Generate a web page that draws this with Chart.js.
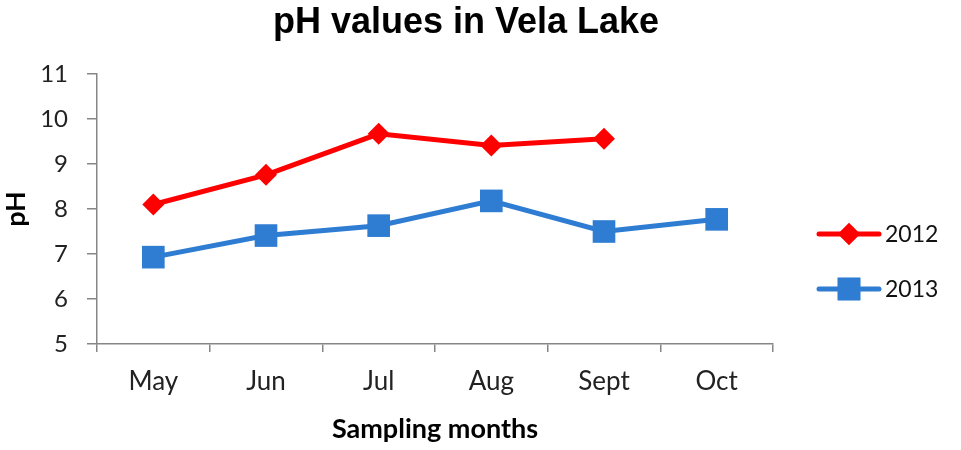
<!DOCTYPE html>
<html>
<head>
<meta charset="utf-8">
<script src="https://cdn.jsdelivr.net/npm/chart.js@4"></script>
<style>
  html, body { margin: 0; padding: 0; background: #fff; }
  #wrap { width: 961px; height: 450px; }
</style>
</head>
<body>
<div id="wrap"><canvas id="phChart" width="961" height="450"></canvas></div>
<script>
const months = ["May", "Jun", "Jul", "Aug", "Sept", "Oct"];
const ph2012 = [8.1, 8.76, 9.67, 9.41, 9.56, null];
const ph2013 = [6.93, 7.41, 7.63, 8.18, 7.5, 7.77];
const yTicks = [5, 6, 7, 8, 9, 10, 11];

const red = "#ff0000";
const blue = "#2e7dd2";
const axisGray = "#868686";
const tickFont = "Lato";

// title and the line+marker legend on the right
const decor = {
  id: "decor",
  afterDraw(chart) {
    const ctx = chart.ctx;
    ctx.save();
    ctx.fillStyle = "#000";
    ctx.font = "bold 36px 'Liberation Sans', Arial, sans-serif";
    ctx.textAlign = "center";
    ctx.textBaseline = "alphabetic";
    ctx.fillText("pH values in Vela Lake", 466, 33);

    const items = [
      { label: "2012", color: red, style: "rectRot", radius: 11, y: 234 },
      { label: "2013", color: blue, style: "rect", radius: 16, y: 289 }
    ];
    items.forEach(it => {
      ctx.strokeStyle = it.color;
      ctx.lineWidth = 5;
      ctx.lineCap = "round";
      ctx.beginPath();
      ctx.moveTo(819, it.y);
      ctx.lineTo(879, it.y);
      ctx.stroke();
      ctx.fillStyle = it.color;
      Chart.helpers.drawPoint(ctx, { pointStyle: it.style, radius: it.radius, borderWidth: 0 }, 849, it.y);
      ctx.fill();
      ctx.fillStyle = "#111";
      ctx.font = "23px " + tickFont;
      ctx.textAlign = "left";
      ctx.textBaseline = "middle";
      ctx.fillText(it.label, 885, it.y + 1);
    });
    ctx.restore();
  }
};

new Chart(document.getElementById("phChart"), {
  type: "line",
  data: {
    labels: months,
    datasets: [
      {
        label: "2012",
        data: ph2012,
        borderColor: red,
        backgroundColor: red,
        borderWidth: 5,
        pointStyle: "rectRot",
        pointRadius: 11,
        pointBorderWidth: 0,
        tension: 0,
        spanGaps: false
      },
      {
        label: "2013",
        data: ph2013,
        borderColor: blue,
        backgroundColor: blue,
        borderWidth: 5,
        pointStyle: "rect",
        pointRadius: 16,
        pointBorderWidth: 0,
        tension: 0
      }
    ]
  },
  options: {
    responsive: false,
    animation: false,
    devicePixelRatio: 1,
    layout: { padding: { top: 74, right: 188, left: 0, bottom: 0 } },
    plugins: {
      legend: { display: false },
      title: { display: false },
      tooltip: { enabled: false }
    },
    scales: {
      x: {
        offset: true,
        afterFit(scale) { scale.height = 106; },
        grid: { offset: true, drawOnChartArea: false, drawTicks: true, tickLength: 8, color: axisGray, lineWidth: 1.5 },
        border: { color: axisGray, width: 1.5 },
        ticks: { color: "#222", font: { family: tickFont, size: 26 }, padding: 14, maxRotation: 0 },
        title: {
          display: true,
          text: "Sampling months",
          color: "#000",
          font: { family: tickFont, size: 27, weight: "bold" },
          padding: { top: 0, bottom: 5 }
        }
      },
      y: {
        min: yTicks[0],
        max: yTicks[yTicks.length - 1],
        afterFit(scale) { scale.width = 97; },
        afterBuildTicks(scale) { scale.ticks = yTicks.map(v => ({ value: v })); },
        grid: { drawOnChartArea: false, drawTicks: true, tickLength: 10, color: axisGray, lineWidth: 1.5 },
        border: { color: axisGray, width: 1.5 },
        ticks: { color: "#222", font: { family: tickFont, size: 24 }, padding: 19 },
        title: {
          display: true,
          text: "pH",
          color: "#000",
          font: { family: tickFont, size: 27, weight: "bold" },
          padding: 0
        }
      }
    }
  },
  plugins: [decor]
});
</script>
</body>
</html>
